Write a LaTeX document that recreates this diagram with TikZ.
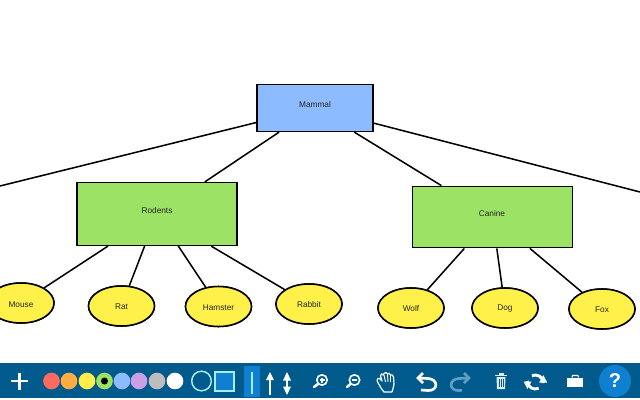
\documentclass[tikz,border=0pt]{standalone}
\usepackage{fontspec}
\setmainfont{Liberation Sans}
\definecolor{barblue}{HTML}{005A8C}
\definecolor{hiblue}{HTML}{0F7FD0}
\definecolor{rectblue}{HTML}{8CBBFF}
\definecolor{leaf}{HTML}{9CE264}
\definecolor{yel}{HTML}{FFF04A}
\definecolor{lightcy}{HTML}{A8EEFA}
\definecolor{faded}{HTML}{5F9FC4}
\tikzset{x=0.75pt,y=-0.75pt,
 edge/.style={draw=black,line width=1.15pt},
 box/.style={draw=black,line width=1.15pt,rectangle,inner sep=0pt},
 leafnode/.style={draw=black,line width=1.15pt,ellipse,inner sep=0pt,fill=yel,minimum width=49.5pt,minimum height=30pt},
 lbl/.style={font=\fontsize{6.2}{7}\selectfont,text=black!85,inner sep=0pt},
 dot/.style={circle,inner sep=0pt,minimum size=12.5pt},
 icon/.style={draw=white,line width=1.2pt,fill=none},
 iconthick/.style={draw=white,line width=1.9pt,line cap=round,fill=none}}
\usetikzlibrary{shapes.geometric,arrows.meta}
\begin{document}
\begin{tikzpicture}
\useasboundingbox (0,0) rectangle (640,400);
\clip (0,0) rectangle (640,400);
\fill[white] (0,0) rectangle (640,400);
% nodes
\coordinate (offl) at (0,186);
\coordinate (offr) at (640,192);
\node[box,fill=rectblue,minimum width=87pt,minimum height=35pt] (mammal) at (315,108) {};
\node[box,fill=leaf,minimum width=120pt,minimum height=47pt] (rodents) at (157,214) {};
\node[box,fill=leaf,minimum width=120pt,minimum height=46pt] (canine) at (492.5,217) {};
\node[leafnode] (mouse) at (21,303) {};
\node[leafnode] (rat) at (121.5,306) {};
\node[leafnode] (hamster) at (218.5,306.5) {};
\node[leafnode] (rabbit) at (309,304) {};
\node[leafnode] (wolf) at (411,308) {};
\node[leafnode] (dog) at (505,308) {};
\node[leafnode] (fox) at (602,309) {};
% connectors
\draw[edge] (mammal) -- (offl);
\draw[edge] (mammal) -- (offr);
\draw[edge] (mammal) -- (rodents);
\draw[edge] (mammal) -- (canine);
\foreach \c in {mouse,rat,hamster,rabbit} \draw[edge] (rodents) -- (\c);
\foreach \c in {wolf,dog,fox} \draw[edge] (canine) -- (\c);
% redraw nodes over connectors
\node[box,fill=rectblue,minimum width=87pt,minimum height=35pt] at (mammal) {};
\node[box,fill=leaf,minimum width=120pt,minimum height=47pt] at (rodents) {};
\node[box,fill=leaf,minimum width=120pt,minimum height=46pt] at (canine) {};
\node[lbl] (tmammal) at (315,104.8) {Mammal};
\node[lbl] (trodents) at (157,210.8) {Rodents};
\node[lbl] (tcanine) at (492,213.8) {Canine};
\foreach \c in {mouse,rat,hamster,rabbit,wolf,dog,fox} \node[leafnode] at (\c) {};
\node[lbl] (tmouse) at (21,304.8) {Mouse};
\node[lbl] (trat) at (121.5,306.8) {Rat};
\node[lbl] (thamster) at (218.5,307.2) {Hamster};
\node[lbl] (trabbit) at (309,305) {Rabbit};
\node[lbl] (twolf) at (411,309) {Wolf};
\node[lbl] (tdog) at (505,309) {Dog};
\node[lbl] (tfox) at (602,310) {Fox};
% toolbar
\fill[barblue] (0,363) rectangle (640,398);
% plus
\draw[white,line width=2.1pt] (11,381) -- (28,381) (19.5,372.5) -- (19.5,389.5);
% palette
\foreach \x/\c in {51.5/FF6B5E,69/FFAD42,87/FFEE4A,122/8CBBFF,139/C9A0E8,157/BDBDBD,175/FFFFFF}{
 \definecolor{tmp}{HTML}{\c}\node[dot,fill=tmp] at (\x,381) {};}
\node[dot,fill=leaf] at (104.5,381) {};
\fill[black] (104.5,381) circle (3.5);
% shapes
\draw[draw=lightcy,line width=1.1pt] (201.5,381) circle (9.8);
\draw[draw=lightcy,line width=1.1pt,fill=hiblue] (215,372) rectangle (234,391);
% line tools
\fill[hiblue] (244,366) rectangle (260,397);
\draw[lightcy,line width=1pt] (252,372) -- (252,394);
\draw[white,line width=1.1pt] (270,378) -- (270,395);
\fill[white] (270,372) -- (266,380) -- (274,380) -- cycle;
\draw[white,line width=1.1pt] (287,378) -- (287,390);
\fill[white] (287,372) -- (283,380.5) -- (291,380.5) -- cycle;
\fill[white] (287,395) -- (283,386.5) -- (291,386.5) -- cycle;
% zoom in/out
\draw[icon] (322,380) circle (5.2);
\draw[iconthick] (318,384) -- (314,387);
\draw[white,line width=.9pt] (319.5,380) -- (324.5,380) (322,377.5) -- (322,382.5);
\draw[icon] (354.5,380) circle (5.2);
\draw[iconthick] (350.5,384) -- (347,387);
\draw[white,line width=.9pt] (352,380) -- (357,380);
% hand
\draw[white,line width=.9pt,line join=round,fill=barblue] (381,388) .. controls (379,384) and (376,381) .. (377.5,379) .. controls (379,377) and (381,380) .. (382,381) -- (380.5,376) .. controls (380,374) and (382.5,373) .. (383.5,375) -- (384,373.5) .. controls (385,372) and (387,372) .. (387.5,374) .. controls (388,372.5) and (390,373) .. (390.5,375) .. controls (391.5,374.5) and (393.5,375) .. (393.5,377) -- (394,384) .. controls (394,387) and (392.5,389) .. (392,392) -- (384,392) -- cycle;
\draw[white,line width=.7pt] (384,375) -- (385.5,382) (387.5,374) -- (388,382) (390.5,375) -- (390.5,382);
% undo / redo
\draw[white,line width=2pt,line join=miter] (423,373) -- (418,378) -- (423,383);
\draw[white,line width=2pt] (418,378) -- (428,378.5) .. controls (438.5,379) and (438.5,391) .. (428,390.5) -- (421,390);
\draw[faded,line width=2pt,line join=miter] (464,373) -- (469,378) -- (464,383);
\draw[faded,line width=2pt] (469,378) -- (459,378.5) .. controls (448.5,379) and (448.5,391) .. (459,390.5) -- (462,390.3);
% trash
\draw[white!88!barblue,line width=1pt] (495,375.5) -- (507,375.5) (498.5,374) -- (503.5,374);
\fill[white!88!barblue] (496.5,377) -- (505.5,377) -- (505,389) -- (497,389) -- cycle;
\draw[barblue,line width=.6pt] (499,379) -- (499,387) (501,379) -- (501,387) (503,379) -- (503,387);
% sync
\draw[white,line width=2.2pt] (527.3,381) arc (180:65:8);
\draw[white,line width=2.2pt] (543.3,383) arc (0:-115:8);
\fill[white] (523.5,381.5) -- (531.5,381.5) -- (527.5,389) -- cycle;
\fill[white] (539.2,382.5) -- (547.2,382.5) -- (543.2,375) -- cycle;
% folder
\fill[white] (567,377.5) rectangle (583,386.5);
\draw[white,line width=.8pt] (572,377.5) -- (572.5,375.5) -- (578,375.5) -- (578.5,377.5);
% help
\fill[hiblue] (615,381) circle (16);
\node[font=\bfseries\fontsize{15}{16}\selectfont,text=white,inner sep=0pt] (help) at (615,381) {?};
\end{tikzpicture}
\end{document}
